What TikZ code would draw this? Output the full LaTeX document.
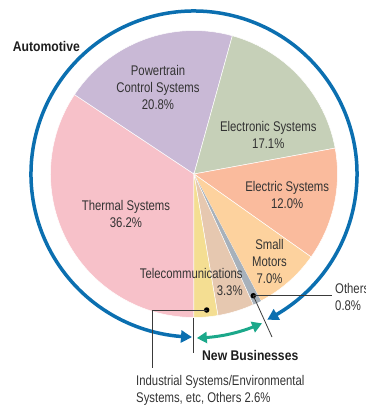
\documentclass[tikz,border=0pt]{standalone}
\usepackage{fontspec}
\newfontfamily\regcond{Liberation Sans}[FakeStretch=0.81]
\newfontfamily\boldcond{Liberation Sans}[FakeStretch=0.87]
\usetikzlibrary{arrows.meta,bending}
\definecolor{cpink}{HTML}{F7C1C9}
\definecolor{cpurple}{HTML}{C9B9D6}
\definecolor{cgreen}{HTML}{C6D0B8}
\definecolor{csalmon}{HTML}{FABB9D}
\definecolor{corange}{HTML}{FDD29E}
\definecolor{cgray}{HTML}{A7B1BB}
\definecolor{ctan}{HTML}{E6C8B0}
\definecolor{cyellow}{HTML}{F4DE92}
\definecolor{blueA}{HTML}{0B6FB0}
\definecolor{greenA}{HTML}{1BA88A}
\definecolor{txt}{HTML}{333333}
\definecolor{txtb}{HTML}{1E1E1E}
\definecolor{leadc}{HTML}{3A3A3A}
\begin{document}
\begin{tikzpicture}[x=1pt,y=1pt,
  lbl/.style={font=\regcond\fontsize{14}{17.2}\selectfont, text=txt, inner sep=0pt, align=center},
  lbll/.style={font=\regcond\fontsize{14}{17.2}\selectfont, text=txt, inner sep=0pt, align=left},
  lblr/.style={font=\regcond\fontsize{14}{17.2}\selectfont, text=txt, inner sep=0pt, align=right},
  bld/.style={font=\boldcond\bfseries\fontsize{14}{17.2}\selectfont, text=txtb, inner sep=0pt},
  sector/.style={draw=white, line width=0.5pt},
  leader/.style={draw=leadc, line width=0.8pt},
  dotc/.style={circle, fill=black, inner sep=0pt, minimum size=5.5pt},
]
\useasboundingbox (-194,-231) rectangle (172,174);
\def\R{143.5}
% pie sectors
\filldraw[sector, fill=cpink] (0,0) -- (146.4:\R) arc[start angle=146.4, end angle=270, radius=\R] -- cycle;
\filldraw[sector, fill=cpurple] (0,0) -- (74.5:\R) arc[start angle=74.5, end angle=146.4, radius=\R] -- cycle;
\filldraw[sector, fill=cgreen] (0,0) -- (10.4:\R) arc[start angle=10.4, end angle=74.5, radius=\R] -- cycle;
\filldraw[sector, fill=csalmon] (0,0) -- (-35.3:\R) arc[start angle=-35.3, end angle=10.4, radius=\R] -- cycle;
\filldraw[sector, fill=corange] (0,0) -- (-62.2:\R) arc[start angle=-62.2, end angle=-35.3, radius=\R] -- cycle;
\fill[cgray] (0,0) -- (-65.6:\R) arc[start angle=-65.6, end angle=-62.2, radius=\R] -- cycle;
\filldraw[sector, fill=ctan] (0,0) -- (-80.4:\R) arc[start angle=-80.4, end angle=-65.6, radius=\R] -- cycle;
\filldraw[sector, fill=cyellow] (0,0) -- (-90:\R) arc[start angle=-90, end angle=-80.4, radius=\R] -- cycle;
% arcs with arrows
\draw[blueA, line width=3.5pt, {Triangle[length=11pt,width=12pt,bend]}-{Triangle[length=11pt,width=12pt,bend]}]
  (-63.3:163) arc[start angle=-63.3, end angle=269.3, radius=163];
\draw[greenA, line width=3pt, {Triangle[length=10pt,width=11pt,bend]}-{Triangle[length=10pt,width=11pt,bend]}]
  (-89:164) arc[start angle=-89, end angle=-65.5, radius=164];
% labels
\node[bld, anchor=base west] (auto) at (-181.3,122.5) {Automotive};
\node[lbl, anchor=base] (pwr) at (-36,64.6) {Powertrain\\Control Systems\\20.8\%};
\node[lbl, anchor=base] (eln) at (74.3,25.8) {Electronic Systems\\17.1\%};
\node[lbl, anchor=base] (elc) at (93.2,-34.9) {Electric Systems\\12.0\%};
\node[lbl, anchor=base] (smm) at (75.5,-109.7) {Small\\Motors\\7.0\%};
\node[lblr, anchor=base east] (tel) at (48.8,-121.5) {Telecommunications\\3.3\%};
\node[lbl, anchor=base] (thm) at (-68,-53.2) {Thermal Systems\\36.2\%};
\node[lbll, anchor=base west] (oth) at (141,-136.5) {Others\\0.8\%};
\node[bld, anchor=base west] (nb) at (8,-186) {New Businesses};
\node[lbll, anchor=base west] (ind) at (-58,-228.6) {Industrial Systems/Environmental\\Systems, etc, Others 2.6\%};
% leaders and dividers
\node[dotc] (dOth) at (59.3,-121.7) {};
\node[dotc] (dInd) at (12.7,-136) {};
\coordinate (othEnd) at (137.7,-121.7);
\coordinate (divR) at (78,-163);
\coordinate (divLa) at (-0.7,-144);
\coordinate (divLb) at (-0.7,-179);
\coordinate (indCorner) at (-42,-136);
\coordinate (indEnd) at (-42,-194);
\draw[leader] (dOth.center) -- (othEnd);
\draw[leader] (dOth.center) -- (divR);
\draw[leader] (divLa) -- (divLb);
\draw[leader] (dInd.center) -- (indCorner) -- (indEnd);
\end{tikzpicture}
\end{document}
